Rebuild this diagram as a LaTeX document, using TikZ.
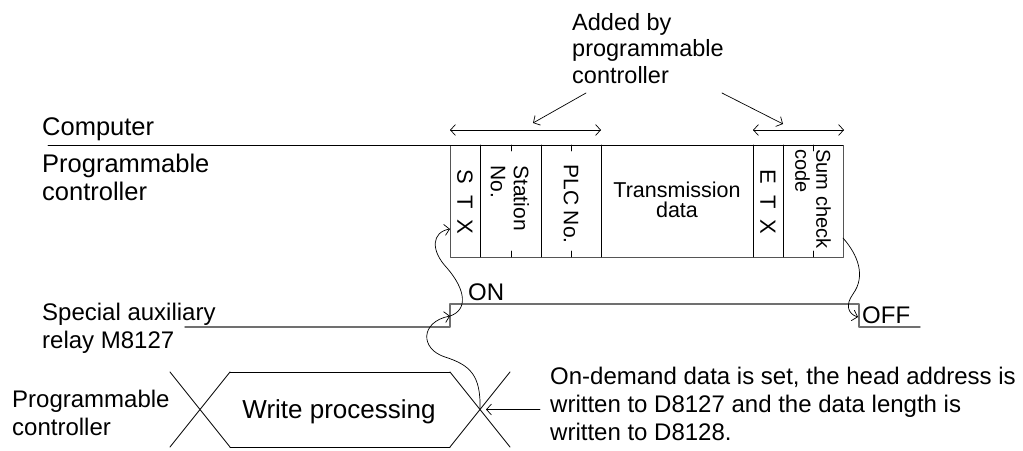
\documentclass[tikz,border=0pt]{standalone}
\usepackage{fontspec}
\setmainfont{Liberation Sans}
\usetikzlibrary{arrows.meta,calc,positioning}
\definecolor{frameline}{HTML}{555555}
\definecolor{sigline}{HTML}{707070}
\tikzset{
every picture/.style={line cap=round,line join=round},
plain label/.style={inner sep=0pt, align=left, font=\fontsize{24}{28}\selectfont},
big label/.style={plain label, font=\fontsize{25.5}{28}\selectfont},
cell text/.style={inner sep=0pt, rotate=-90, align=left, font=\fontsize{21}{23}\selectfont},
frame line/.style={draw=frameline, line width=1pt},
cell line/.style={draw=black, line width=0.9pt},
signal line/.style={draw=sigline, line width=1.4pt},
fig arrow/.style={draw=black, line width=0.7pt, -{Straight Barb[length=5pt,width=11pt]}},
both arrow/.style={draw=black, line width=0.7pt, {Straight Barb[length=5pt,width=11pt]}-{Straight Barb[length=5pt,width=11pt]}},
xline/.style={draw=black, line width=0.8pt}
}
\begin{document}
\begin{tikzpicture}[x=1pt,y=-1pt]
\useasboundingbox (0,0) rectangle (1023,450);
% labels on the left (base = last line)
\node[big label,anchor=base west] (comp) at (42,135) {Computer};
\node[big label,anchor=base west] (plc) at (42,200) {Programmable\\controller};
\node[plain label,anchor=base west] (relay) at (42,348) {Special auxiliary\\relay M8127};
\node[plain label,anchor=base west] (plcb) at (12,435) {Programmable\\controller};
\node[plain label,anchor=base west,font=\fontsize{23.5}{26.5}\selectfont] (added) at (572,83) {Added by\\programmable\\controller};
% message frame
\coordinate (ftl) at (450,145);
\coordinate (fbr) at (843,257);
\draw[cell line] (48,145) coordinate (cline) -- (ftl);
\draw[frame line] (ftl) rectangle (fbr);
\draw[cell line] (ftl) -- (ftl -| fbr);
\foreach \cx in {480,541,601,753,783}
  \draw[cell line] (\cx,145) -- (\cx,257);
\foreach \tx in {511,571,813} {
  \draw[cell line] (\tx,145) -- (\tx,151);
  \draw[cell line] (\tx,257) -- (\tx,251);
}
\node[cell text,font=\fontsize{22}{23}\selectfont] (stx) at (465,202) {S\hspace{11pt}T\hspace{11pt}X};
\node[cell text] (station) at (510,198) {Station\\No.};
\node[cell text] (plcno) at (571,204) {PLC No.};
\node[inner sep=0pt,align=center,font=\fontsize{21.5}{20}\selectfont] (trans) at (677,200) {Transmission\\data};
\node[cell text,font=\fontsize{22}{23}\selectfont] (etx) at (768,202) {E\hspace{11pt}T\hspace{11pt}X};
\node[cell text,font=\fontsize{20}{21}\selectfont] (sum) at (813,199) {Sum check\\code};
% added-by arrows
\coordinate (hdl) at (450,130);
\coordinate (hdr) at (601,130);
\coordinate (tll) at (753,130);
\coordinate (tlr) at (844,130);
\draw[both arrow] (hdl) -- (hdr);
\draw[both arrow] (tll) -- (tlr);
\coordinate (adda) at (586,93);
\coordinate (addb) at (722,93);
\draw[fig arrow] (adda) -- (533,123) coordinate (hdmid);
\draw[fig arrow] (addb) -- (783,124) coordinate (tlmid);
% relay signal
\coordinate (rise) at (450,327);
\coordinate (fall) at (859,304);
\draw[signal line] (185,327) -- (rise) -- (450,304) -- (fall) -- (859,327) -- (920,327);
\node[plain label,anchor=base west] (on) at (468,300) {ON};
\node[plain label,anchor=base west] (off) at (862,323) {OFF};
% write processing
\draw[xline] (170,372) -- (230,447) (170,447) -- (230,372);
\draw[xline] (230,372) -- (450,372) (230,447) -- (450,447);
\draw[xline] (450,372) -- (510,447) (450,447) -- (510,372);
\coordinate (wcross) at (480,409.5);
\node[plain label,anchor=base,font=\fontsize{26}{28}\selectfont] (write) at (339,418) {Write processing};
\node[plain label,anchor=base west] (note) at (550,440) {On-demand data is set, the head address is\\written to D8127 and the data length is\\written to D8128.};
\draw[fig arrow] (540,409.5) coordinate (notein) -- ($(wcross)+(6,0)$);
% wavy links
\coordinate (stxin) at (450,229);
\coordinate (corner) at (450,316);
\draw[fig arrow] (wcross) .. controls (481,375) and (470,365) .. (445,357)
  .. controls (420,349) and (420,322) .. (corner);
\draw[fig arrow] (corner) .. controls (468,310) and (466,290) .. (447,268)
  .. controls (430,250) and (432,232) .. (stxin);
\draw[fig arrow] (843,238) .. controls (858,255) and (866,276) .. (853,294)
  .. controls (845,305) and (848,314) .. (858,317);
\end{tikzpicture}
\end{document}
